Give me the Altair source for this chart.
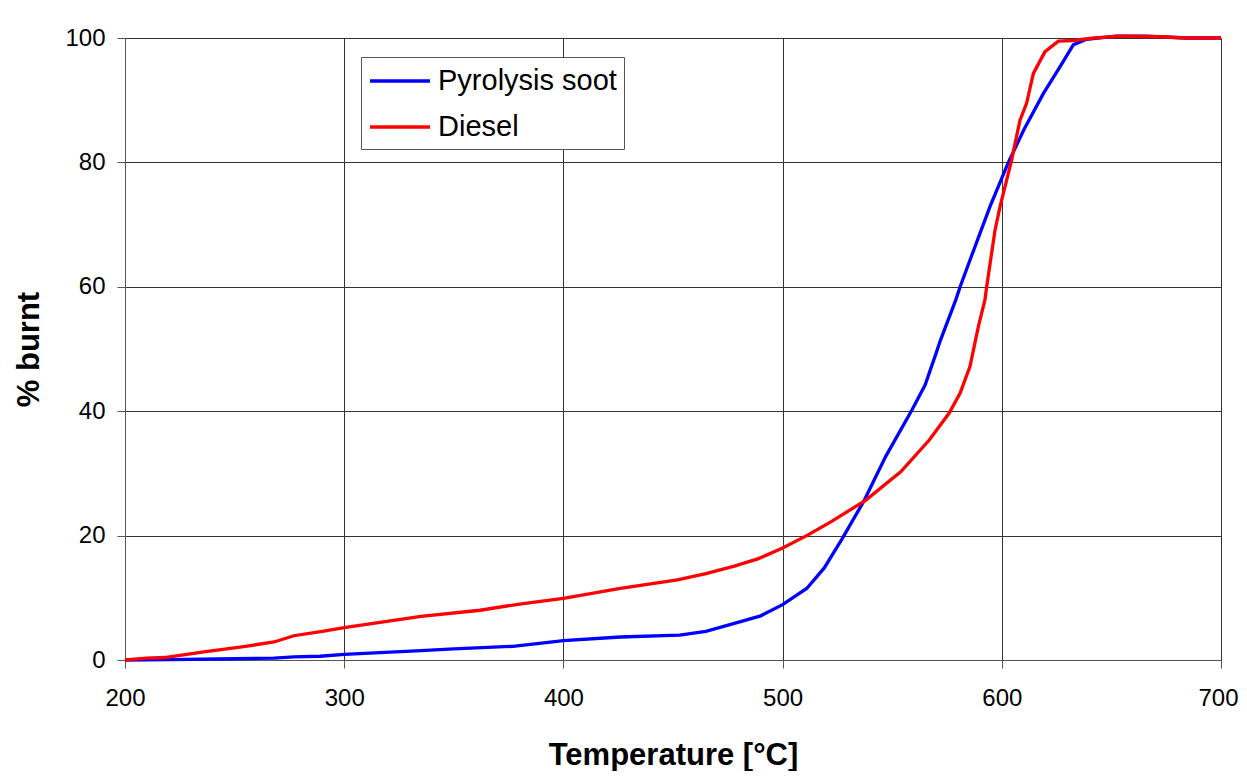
import altair as alt
import pandas as pd

soot_T = [200, 220, 250, 268, 277, 289, 300, 335, 350, 377, 400, 426, 453, 465, 478, 490,
          500, 511, 519, 527, 537, 547, 559, 565, 570, 572, 579, 581, 585.5, 594.6, 603,
          610, 619, 626.6, 632.6, 638.7, 652, 666, 684, 700]
soot_Y = [0, 0.05, 0.2, 0.3, 0.5, 0.6, 0.9, 1.5, 1.8, 2.2, 3.1, 3.7, 4.0, 4.6, 5.9, 7.1,
          8.9, 11.5, 14.8, 19.4, 25.5, 32.7, 40.2, 44.2, 49.3, 51.4, 57.9, 60, 64.3, 72.9, 80,
          85.2, 91.1, 95.4, 98.9, 99.8, 100.3, 100.3, 100, 100]

diesel_T = [200, 210, 218, 236, 255, 268, 277, 290, 300, 335, 362, 380, 400, 426, 452, 465,
            478, 489, 500, 511, 522, 538, 554, 567, 576, 581, 585.5, 589.3, 592.3, 593.1,
            596.9, 599.2, 604.5, 608.3, 611.3, 614.4, 619.7, 625.8, 632.6, 642, 654, 672, 684, 700]
diesel_Y = [0, 0.3, 0.4, 1.3, 2.2, 2.9, 3.9, 4.6, 5.2, 7.0, 8.0, 9.0, 9.9, 11.5, 12.9, 13.9,
            15.1, 16.3, 18.0, 20.0, 22.2, 25.7, 30.3, 35.4, 39.7, 42.9, 47.2, 53.6, 57.9, 60,
            69.1, 72.9, 80.4, 86.8, 89.5, 94.3, 97.8, 99.5, 99.6, 100, 100.3, 100.2, 100, 100]

series = ["Pyrolysis soot", "Diesel"]
colors = ["#0000FF", "#FF0000"]

rows = []
for i, (t, y) in enumerate(zip(soot_T, soot_Y)):
    rows.append({"T": t, "burnt": y, "series": series[0], "order": i})
for i, (t, y) in enumerate(zip(diesel_T, diesel_Y)):
    rows.append({"T": t, "burnt": y, "series": series[1], "order": i})
df = pd.DataFrame(rows)

FONT = "Liberation Sans"

chart = alt.Chart(df).mark_line(strokeWidth=3.3).encode(
    x=alt.X("T:Q", scale=alt.Scale(domain=[200, 700], nice=False),
            axis=alt.Axis(values=[200, 300, 400, 500, 600, 700], title="Temperature [°C]",
                          labelFontSize=24, titleFontSize=31, titleFontWeight="bold",
                          tickSize=8, labelPadding=18, titlePadding=30, labelFlush=False,
                          labelOffset={"condition": {"test": "datum.value == 700", "value": -3}, "value": 0},
                          grid=True, gridColor="#333333", gridWidth=1,
                          domainColor="#555555", tickColor="#555555", labelColor="#000000",
                          titleColor="#000000", labelFont=FONT, titleFont=FONT)),
    y=alt.Y("burnt:Q", scale=alt.Scale(domain=[0, 100], nice=False),
            axis=alt.Axis(values=[0, 20, 40, 60, 80, 100], title="% burnt",
                          labelFontSize=24, titleFontSize=31, titleFontWeight="bold",
                          tickSize=8, labelPadding=12, titlePadding=19,
                          grid=True, gridColor="#333333", gridWidth=1,
                          domainColor="#555555", tickColor="#555555", labelColor="#000000",
                          titleColor="#000000", labelFont=FONT, titleFont=FONT)),
    color=alt.Color("series:N", scale=alt.Scale(domain=series, range=colors),
                    legend=alt.Legend(title=None, orient="none", legendX=236, legendY=19,
                                      symbolType="M-2,0H2", symbolSize=900, symbolStrokeWidth=3.3,
                                      symbolOffset=15, labelLimit=400,
                                      labelFontSize=29, labelFont=FONT, labelColor="#000000",
                                      fillColor="white", strokeColor="#555555",
                                      padding=7, rowPadding=14, labelOffset=21)),
    order="order:Q",
).properties(
    width=1096, height=622,
    autosize=alt.AutoSizeParams(type="none"),
    padding={"left": 117, "top": 30, "right": 18, "bottom": 111},
).configure_view(stroke="#888888", strokeWidth=1.5).configure(background="white")

chart.save("out.html", embed_options={"renderer": "svg", "actions": False})
